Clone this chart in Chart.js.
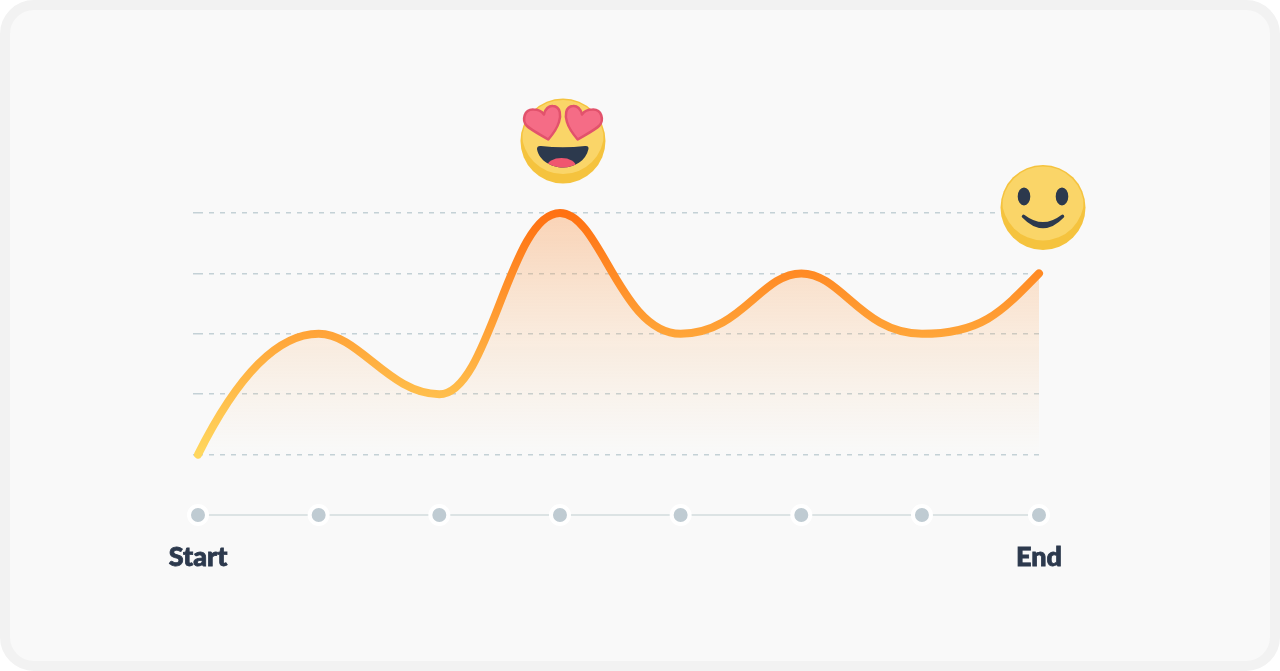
<!DOCTYPE html>
<html>
<head>
<meta charset="utf-8">
<title>Journey</title>
<script src="https://cdn.jsdelivr.net/npm/chart.js@4"></script>
<style>
    html, body { margin: 0; padding: 0; background: #ffffff; }
    #frame {
        position: absolute; left: 0; top: 0;
        width: 1280px; height: 671px; box-sizing: border-box;
        background: #f9f9f9; border: 10px solid #f2f2f2; border-radius: 34px;
    }
    #journey { position: absolute; left: 0; top: 0; }
</style>
</head>
<body>
<div id="frame"></div>
<canvas id="journey" width="1280" height="671"></canvas>
<script>
// Chart data.
var steps = ["Start", "", "", "", "", "", "", "End"];
var stepAt = [0, 1, 2, 3, 4, 5, 6, 6.97];
var mood = [0, 2, 1, 4, 2, 3, 2, 3];
var track = [-1, -1, -1, -1, -1, -1, -1, -1];
var moodLevels = [0, 1, 2, 3, 4];
var heartEyesAt = 3;
var smileAt = 7;

// How much longer the curve handles are than the monotone ones, per point.
var handleIn = [1, 1, 1.25, 1.25, 1.5, 1, 1.5, 1];
var handleOut = [1, 1, 1.25, 1, 1.5, 1, 1.5, 1];
var endSteepness = 2;

var INK = "#2c394d";

function toPoints(values) {
    return values.map(function(v, i) {
        return { x: stepAt[i], y: v };
    });
}

// Vertical gradient between the lowest and highest mood level.
function levelGradient(context, from, to) {
    var chart = context.chart;
    if (!chart.chartArea) {
        return from;
    }
    var y = chart.scales.y;
    var g = chart.ctx.createLinearGradient(0, y.getPixelForValue(moodLevels[0]), 0, y.getPixelForValue(moodLevels[4]));
    g.addColorStop(0, from);
    g.addColorStop(1, to);
    return g;
}

function drawFace(ctx, x, y) {
    ctx.fillStyle = "#f5c33e";
    ctx.beginPath();
    ctx.arc(x, y, 42.5, 0, Math.PI * 2);
    ctx.fill();

    ctx.save();
    ctx.beginPath();
    ctx.arc(x, y, 41, 0, Math.PI * 2);
    ctx.clip();
    ctx.fillStyle = "#fad568";
    ctx.beginPath();
    ctx.arc(x, y - 8, 41, 0, Math.PI * 2);
    ctx.fill();
    ctx.restore();
}

function drawHeart(ctx) {
    ctx.beginPath();
    ctx.moveTo(-14.7, -1.5);
    ctx.bezierCurveTo(-22, -6, -32, -11, -36.5, -15.5);
    ctx.bezierCurveTo(-41, -21, -39, -32, -29.5, -31.5);
    ctx.bezierCurveTo(-25, -31.5, -21, -29.5, -19, -26.5);
    ctx.bezierCurveTo(-18, -32, -14, -35.5, -10, -35);
    ctx.bezierCurveTo(-2, -34.5, -2, -25, -4, -19);
    ctx.bezierCurveTo(-6, -12, -10, -7, -14.7, -1.5);
    ctx.closePath();
    ctx.fillStyle = "#f56c86";
    ctx.fill();
    ctx.lineWidth = 2.5;
    ctx.strokeStyle = "#e2526c";
    ctx.lineJoin = "round";
    ctx.stroke();
}

function drawHeartEyes(ctx, x, y) {
    drawFace(ctx, x, y);

    ctx.save();
    ctx.translate(x, y);
    drawHeart(ctx);
    ctx.scale(-1, 1);
    drawHeart(ctx);
    ctx.restore();

    // Mouth with tongue.
    ctx.save();
    ctx.translate(x, y);
    ctx.beginPath();
    ctx.moveTo(-26, 8);
    ctx.quadraticCurveTo(-26, 4.5, -22, 5);
    ctx.quadraticCurveTo(0, 7.5, 22, 5);
    ctx.quadraticCurveTo(26, 4.5, 25.5, 8);
    ctx.bezierCurveTo(23, 20, 11, 26.5, 0, 26.5);
    ctx.bezierCurveTo(-11, 26.5, -24, 20, -26, 8);
    ctx.closePath();
    ctx.fillStyle = INK;
    ctx.fill();
    ctx.clip();
    ctx.fillStyle = "#f0566f";
    ctx.beginPath();
    ctx.ellipse(-1.5, 25.5, 14.5, 8.5, 0, 0, Math.PI * 2);
    ctx.fill();
    ctx.restore();
}

function drawSmile(ctx, x, y) {
    drawFace(ctx, x, y);

    ctx.fillStyle = INK;
    ctx.beginPath();
    ctx.ellipse(x - 19, y - 11, 6.3, 9, 0, 0, Math.PI * 2);
    ctx.ellipse(x + 19, y - 11, 6.3, 9, 0, 0, Math.PI * 2);
    ctx.fill();

    // Crescent, a little thicker in the middle.
    ctx.strokeStyle = INK;
    ctx.lineWidth = 3.5;
    ctx.lineJoin = "round";
    ctx.beginPath();
    ctx.moveTo(x - 19.5, y + 9);
    ctx.quadraticCurveTo(x, y + 24, x + 19.5, y + 9);
    ctx.quadraticCurveTo(x, y + 29.4, x - 19.5, y + 9);
    ctx.closePath();
    ctx.fill();
    ctx.stroke();
}

// Lengthens the curve handles the library computed, before the line is drawn.
var curvePlugin = {
    id: "curve",
    beforeDatasetsDraw: function(chart) {
        var line = chart.getDatasetMeta(0).dataset;
        if (line.$stretched) {
            return;
        }
        line.updateControlPoints(chart.chartArea, "x");
        var points = line.points;
        var last = points.length - 1;
        points.forEach(function(pt, i) {
            pt.cp1x = pt.x + (pt.cp1x - pt.x) * handleIn[i];
            pt.cp1y = pt.y + (pt.cp1y - pt.y) * handleIn[i];
            pt.cp2x = pt.x + (pt.cp2x - pt.x) * handleOut[i];
            pt.cp2y = pt.y + (pt.cp2y - pt.y) * handleOut[i];
        });
        points[0].cp2y = points[0].y + (points[0].cp2y - points[0].y) * endSteepness;
        points[last].cp1y = points[last].y + (points[last].cp1y - points[last].y) * endSteepness;
        line.$stretched = true;
    }
};

// Puts the two faces above their points of the curve.
var facesPlugin = {
    id: "faces",
    afterDatasetsDraw: function(chart) {
        var ctx = chart.ctx;
        var sx = chart.scales.x;
        var sy = chart.scales.y;

        ctx.save();
        drawHeartEyes(ctx, sx.getPixelForValue(stepAt[heartEyesAt]) + 3, sy.getPixelForValue(mood[heartEyesAt]) - 72);
        drawSmile(ctx, sx.getPixelForValue(stepAt[smileAt]) + 4, sy.getPixelForValue(mood[smileAt]) - 66);
        ctx.restore();
    }
};

function hideTrackLevel(context) {
    return context.tick && context.tick.value < 0 ? "rgba(0,0,0,0)" : "#c4d1d6";
}

var data = {
    datasets: [
        {
            data: toPoints(mood),
            cubicInterpolationMode: "monotone",
            borderWidth: 8,
            borderCapStyle: "round",
            borderJoinStyle: "round",
            borderColor: function(context) {
                return levelGradient(context, "#ffd75e", "#ff7112");
            },
            fill: "origin",
            backgroundColor: function(context) {
                return levelGradient(context, "rgba(255,190,110,0)", "rgba(250,130,40,0.32)");
            },
            pointRadius: 0,
            clip: false
        },
        {
            data: toPoints(track),
            borderWidth: 1.2,
            borderColor: "#bfcdd0",
            pointRadius: 9,
            pointBorderWidth: 4,
            pointBorderColor: "#ffffff",
            pointBackgroundColor: "#bfcbd2",
            clip: false
        }
    ]
};

var options = {
    responsive: false,
    animation: false,
    events: [],
    layout: {
        padding: { left: 193, right: 241, top: 213, bottom: 0 }
    },
    scales: {
        x: {
            type: "linear",
            min: stepAt[0],
            max: stepAt[stepAt.length - 1],
            afterFit: function(scale) {
                scale.height = 156;
            },
            afterBuildTicks: function(scale) {
                scale.ticks = stepAt.map(function(v) {
                    return { value: v };
                });
            },
            grid: { display: false },
            border: { display: false },
            ticks: {
                autoSkip: false,
                maxRotation: 0,
                padding: 18,
                color: INK,
                textStrokeColor: INK,
                textStrokeWidth: 0.8,
                font: { family: "Lato", size: 27, weight: "900" },
                callback: function(value, index) {
                    return steps[index];
                }
            }
        },
        y: {
            min: -1,
            max: 4,
            afterFit: function(scale) {
                scale.width = 5;
            },
            border: { display: false, dash: [5, 6] },
            grid: {
                lineWidth: 1.5,
                tickLength: 5,
                tickBorderDash: [5, 6],
                color: hideTrackLevel,
                tickColor: hideTrackLevel
            },
            ticks: { display: false, stepSize: 1 }
        }
    },
    plugins: {
        legend: { display: false },
        tooltip: { enabled: false },
        title: { display: false }
    }
};

new Chart(document.getElementById("journey"), { type: "line", data: data, options: options, plugins: [curvePlugin, facesPlugin] });
</script>
</body>
</html>
